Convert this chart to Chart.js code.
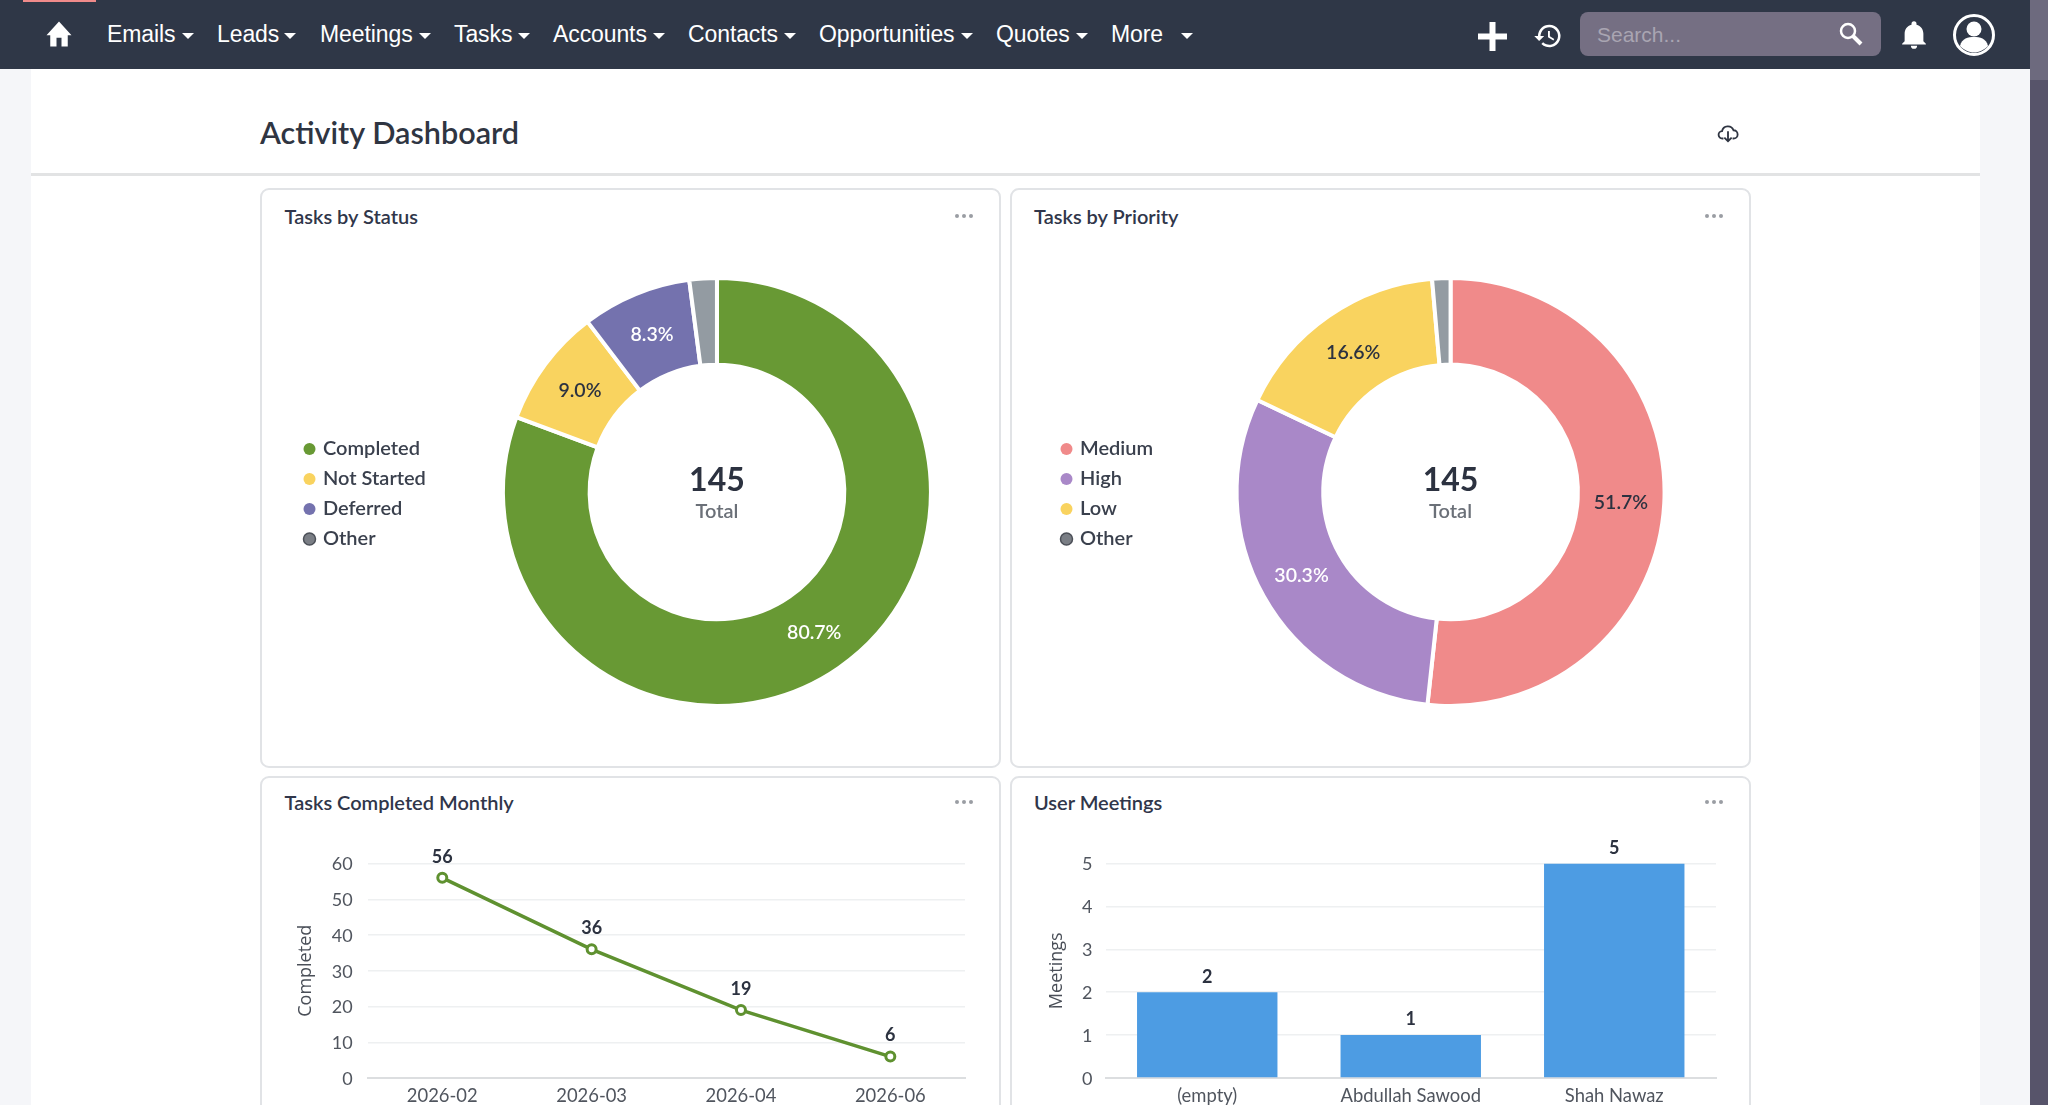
<!DOCTYPE html>
<html>
<head>
<meta charset="utf-8">
<title>Activity Dashboard</title>
<script src="https://cdn.jsdelivr.net/npm/chart.js@4/dist/chart.umd.min.js"></script>
<style>
  html, body { margin: 0; padding: 0; width: 2048px; height: 1105px; overflow: hidden; background: #f5f6f9; font-family: Lato, sans-serif; }
  .abs, canvas { position: absolute; }
  #main { left: 31px; top: 69px; width: 1949px; height: 1036px; background: #fff; }
  #rule { left: 31px; top: 173px; width: 1949px; height: 3px; background: #e2e3e4; }
  #scroll { left: 2030px; top: 0; width: 18px; height: 1105px; background: #57546a; }
  #thumb { left: 2030px; top: 0; width: 18px; height: 80px; background: #6d6a7e; }
  #nav { left: 0; top: 0; width: 2030px; height: 69px; background: #2f3747; }
  #tab { left: 23px; top: 0; width: 73px; height: 2px; background: #f08a8a; }
  .item { top: 20px; font: 23px/28px "Liberation Sans", sans-serif; color: #fff; white-space: nowrap; letter-spacing: -0.1px; }
  .caret { top: 33px; width: 0; height: 0; border-left: 6px solid transparent; border-right: 6px solid transparent; border-top: 6px solid #fff; }
  #search { left: 1580px; top: 12px; width: 301px; height: 44px; background: #756f83; border-radius: 8px; }
  #placeholder { left: 1597px; top: 22px; font: 21px/26px "Liberation Sans", sans-serif; color: #a9a5b2; }
  h1 { position: absolute; left: 260px; top: 113px; margin: 0; font: 600 30.6px/40px Lato, sans-serif; color: #2f3542; }
  .card { box-sizing: border-box; width: 741px; background: #fff; border: 2px solid #e1e3e6; border-radius: 9px; }
  .card-title { font: 600 20px/26px Lato, sans-serif; color: #30364a; white-space: nowrap; }
  .dots { width: 4px; height: 4px; border-radius: 2px; background: #9a9da3; box-shadow: 7px 0 0 #9a9da3, -7px 0 0 #9a9da3; }
</style>
</head>
<body>
<div class="abs" id="main"></div>
<div class="abs" id="rule"></div>
<div class="abs" id="scroll"></div>
<div class="abs" id="thumb"></div>
<div class="abs" id="nav"></div>
<div class="abs" id="tab"></div>

<svg class="abs" style="left:44px;top:19px" width="30" height="30" viewBox="0 0 24 24" fill="#fff"><path d="M10 22v-7h4v7h5v-9h3L12 2 2 13h3v9z"/></svg>
<div id="menu"></div>
<svg class="abs" style="left:1478px;top:22px" width="29" height="29" viewBox="0 0 29 29" fill="#fff"><path d="M11.5 0h6v11.5H29v6H17.500V29h-6V17.500H0v-6h11.500z"/></svg>
<svg class="abs" style="left:1533px;top:21px" width="30" height="30" viewBox="0 0 24 24" fill="#fff"><path d="M13 3a9 9 0 0 0-9 9H1l3.900 4L9 12H6a7 7 0 1 1 2.100 5l-1.400 1.400A9 9 0 1 0 13 3zm-1 5v5l4.300 2.500.7-1.200-3.500-2.100V8z"/></svg>
<div class="abs" id="search"></div>
<div class="abs" id="placeholder">Search...</div>
<svg class="abs" style="left:1838px;top:21px" width="26" height="26" viewBox="0 0 26 26"><circle cx="10" cy="10" r="7" fill="none" stroke="#fff" stroke-width="2.500"/><path d="M15 15l8 8" stroke="#fff" stroke-width="4"/></svg>
<svg class="abs" style="left:1899px;top:20px" width="30" height="30" viewBox="0 0 24 24" fill="#fff"><path d="M12 23a2.500 2.500 0 0 0 2.500-2.500h-5A2.500 2.500 0 0 0 12 23zm7.500-6v-6c0-3.500-2-6.500-5.500-7.300V3a2 2 0 0 0-4 0v.7C6.500 4.500 4.500 7.500 4.500 11v6L2.500 19v.5h19V19z"/></svg>
<svg class="abs" style="left:1952px;top:13px" width="44" height="44" viewBox="0 0 44 44"><circle cx="22" cy="22" r="19.500" fill="none" stroke="#fff" stroke-width="3"/><circle cx="22" cy="16" r="7.500" fill="#fff"/><path d="M8 33c2-8 8-9 14-9s12 1 14 9c-4 4-9 6.500-14 6.500S12 37 8 33z" fill="#fff"/></svg>

<h1>Activity Dashboard</h1>
<svg class="abs" style="left:1717px;top:122px" width="22" height="22" viewBox="0 0 24 24" fill="none" stroke="#2f3542" stroke-width="2"><path d="M7 18H6a4 4 0 0 1-.500-8A6.500 6.500 0 0 1 18 9a4.500 4.500 0 0 1 0 9h-1"/><path d="M12 10v11m-4-4l4 4 4-4"/></svg>

<div class="abs card" style="left:260px;top:188px;height:580px"></div>
<div class="abs card" style="left:1010px;top:188px;height:580px"></div>
<div class="abs card" style="left:260px;top:776px;height:400px"></div>
<div class="abs card" style="left:1010px;top:776px;height:400px"></div>

<div class="abs card-title" style="left:284.500px;top:203px">Tasks by Status</div>
<div class="abs card-title" style="left:1034px;top:203px">Tasks by Priority</div>
<div class="abs card-title" style="left:284.500px;top:789px">Tasks Completed Monthly</div>
<div class="abs card-title" style="left:1034px;top:789px">User Meetings</div>
<div class="abs dots" style="left:962px;top:214px"></div>
<div class="abs dots" style="left:1712px;top:214px"></div>
<div class="abs dots" style="left:962px;top:800px"></div>
<div class="abs dots" style="left:1712px;top:800px"></div>

<canvas id="statusChart" style="left:296px;top:200px" width="704" height="570"></canvas>
<canvas id="priorityChart" style="left:1053px;top:200px" width="687" height="570"></canvas>
<canvas id="monthlyChart" style="left:270px;top:823px" width="730" height="285"></canvas>
<canvas id="meetingsChart" style="left:1020px;top:823px" width="730" height="285"></canvas>

<script>
const navItems = ['Emails', 'Leads', 'Meetings', 'Tasks', 'Accounts', 'Contacts', 'Opportunities', 'Quotes', 'More'];
const navLeft = [107, 217, 320, 454, 553, 688, 819, 996, 1111];
const caretLeft = [182, 284, 419, 518, 653, 784, 961, 1076, 1181];

const statusLabels = ['Completed', 'Not Started', 'Deferred', 'Other'];
const statusValues = [117, 13, 12, 3];
const statusColors = ['#689934', '#f9d35f', '#7472ae', '#939ba2'];

const priorityLabels = ['Medium', 'High', 'Low', 'Other'];
const priorityValues = [75, 44, 24, 2];
const priorityColors = ['#f08a8a', '#a988c8', '#f9d35f', '#939ba2'];

const months = ['2026-02', '2026-03', '2026-04', '2026-06'];
const completed = [56, 36, 19, 6];

const meetingUsers = ['(empty)', 'Abdullah Sawood', 'Shah Nawaz'];
const meetings = [2, 1, 5];

const menu = document.getElementById('menu');
navItems.forEach((name, i) => {
  const el = document.createElement('div');
  el.className = 'abs item';
  el.style.left = navLeft[i] + 'px';
  el.textContent = name;
  menu.appendChild(el);
  const c = document.createElement('div');
  c.className = 'abs caret';
  c.style.left = caretLeft[i] + 'px';
  menu.appendChild(c);
});

const textDark = '#2c3240';
const tickColor = '#50555e';
const gridColor = '#eef0f1';

Chart.defaults.animation = false;
Chart.defaults.responsive = false;
Chart.defaults.font.family = 'Lato, sans-serif';
Chart.defaults.plugins.tooltip.enabled = false;

// percent labels on the slices and the total in the hole
const donutText = {
  id: 'donutText',
  afterLayout(chart) {
    // legend sits a touch lower than chart.js centres it
    chart.legend.top += 2;
    chart.legend.bottom += 2;
  },
  afterDraw(chart) {
    const ctx = chart.ctx;
    const values = chart.data.datasets[0].data;
    const total = values.reduce((a, b) => a + b, 0);
    const dark = chart.options.plugins.donutText.darkSlices;
    ctx.save();
    ctx.textAlign = 'center';
    ctx.textBaseline = 'middle';
    ctx.font = '600 19.5px Lato, sans-serif';
    chart.getDatasetMeta(0).data.forEach((arc, i) => {
      const pct = values[i] / total * 100;
      if (pct < 5) return;
      const p = arc.tooltipPosition();
      ctx.fillStyle = dark.includes(i) ? textDark : '#fff';
      ctx.fillText(pct.toFixed(1) + '%', p.x, p.y + 1);
    });
    const arc0 = chart.getDatasetMeta(0).data[0];
    ctx.font = '700 32px Lato, sans-serif';
    ctx.fillStyle = textDark;
    ctx.fillText(String(total), arc0.x, arc0.y - 11);
    ctx.font = '600 20px Lato, sans-serif';
    ctx.fillStyle = '#6b7078';
    ctx.fillText('Total', arc0.x, arc0.y + 20);
    ctx.restore();
  }
};

// value labels above points and bars
const valueText = {
  id: 'valueText',
  afterDatasetsDraw(chart) {
    const ctx = chart.ctx;
    const gap = chart.options.plugins.valueText.gap;
    ctx.save();
    ctx.textAlign = 'center';
    ctx.textBaseline = 'middle';
    ctx.font = '700 18px Lato, sans-serif';
    ctx.fillStyle = textDark;
    chart.getDatasetMeta(0).data.forEach((el, i) => {
      ctx.fillText(String(chart.data.datasets[0].data[i]), el.x, el.y - gap);
    });
    ctx.restore();
  }
};

function donut(id, labels, values, colors, darkSlices, paddingRight) {
  new Chart(document.getElementById(id), {
    type: 'doughnut',
    plugins: [donutText],
    data: {
      labels: labels,
      datasets: [{ data: values, backgroundColor: colors, borderColor: '#fff', borderWidth: 4 }]
    },
    options: {
      cutout: '59.5%',
      layout: { padding: { top: 76, bottom: 62, right: paddingRight } },
      plugins: {
        donutText: { darkSlices: darkSlices },
        legend: {
          position: 'left',
          labels: {
            usePointStyle: true,
            boxWidth: 7,
            boxHeight: 8.5,
            padding: 10,
            color: '#3a404d',
            font: { size: 20, weight: '600' },
            generateLabels(chart) {
              return Chart.overrides.doughnut.plugins.legend.labels.generateLabels(chart).map(item => {
                const other = item.text === 'Other';
                item.fillStyle = other ? '#7a7e85' : item.fillStyle;
                item.strokeStyle = other ? '#4c5058' : item.fillStyle;
                item.lineWidth = other ? 1.5 : 0;
                return item;
              });
            }
          }
        }
      }
    }
  });
}

donut('statusChart', statusLabels, statusValues, statusColors, [1], 2);
donut('priorityChart', priorityLabels, priorityValues, priorityColors, [0, 2], 2);

function axes(yTitle, yMax, yStep, yWidth, titlePad, tickPad) {
  return {
    x: {
      offset: true,
      afterFit(s) { s.height = 30; },
      grid: { display: false, drawTicks: false },
      border: { color: '#dcdee0', width: 2 },
      ticks: { color: tickColor, font: { size: 18.4 }, padding: 7, maxRotation: 0 }
    },
    y: {
      min: 0,
      max: yMax,
      afterFit(s) { s.width = yWidth; },
      border: { display: false },
      grid: { color: gridColor, lineWidth: 1.5, drawTicks: false },
      ticks: { stepSize: yStep, color: tickColor, font: { size: 18 }, padding: tickPad, labelOffset: 1 },
      title: {
        display: true,
        text: yTitle,
        color: '#4a4f58',
        font: { family: '"Open Sans", sans-serif', size: 18 },
        padding: { top: titlePad, bottom: 0 }
      }
    }
  };
}

new Chart(document.getElementById('monthlyChart'), {
  type: 'line',
  plugins: [valueText],
  data: {
    labels: months,
    datasets: [{
      label: 'Completed',
      data: completed,
      borderColor: '#5f9130',
      borderWidth: 3.5,
      tension: 0,
      pointRadius: 4.5,
      pointBackgroundColor: '#fff',
      pointBorderColor: '#5f9130',
      pointBorderWidth: 3
    }]
  },
  options: {
    layout: { padding: { top: 40.5, right: 35 } },
    plugins: { legend: { display: false }, valueText: { gap: 21 } },
    scales: axes('Completed', 60, 10, 97.6, 25.5, 15)
  }
});

new Chart(document.getElementById('meetingsChart'), {
  type: 'bar',
  plugins: [valueText],
  data: {
    labels: meetingUsers,
    datasets: [{ label: 'Meetings', data: meetings, backgroundColor: '#4d9ce3', categoryPercentage: 1, barPercentage: 0.69 }]
  },
  options: {
    layout: { padding: { top: 40.5, right: 34 } },
    plugins: { legend: { display: false }, valueText: { gap: 15.5 } },
    scales: axes('Meetings', 5, 1, 85.5, 26, 13)
  }
});
</script>
</body>
</html>
